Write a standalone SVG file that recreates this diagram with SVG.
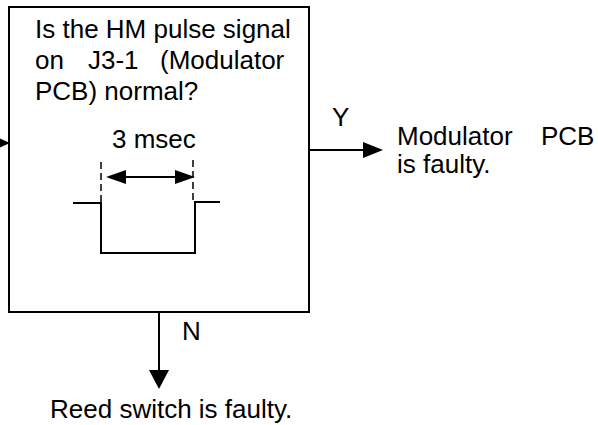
<svg xmlns="http://www.w3.org/2000/svg" width="598" height="425" viewBox="0 0 598 425">
<style>
text{font-family:"Liberation Sans",Arial,sans-serif;font-size:26px;fill:#000}
.ln{stroke:#000;stroke-width:2;fill:none}
.dash{stroke:#000;stroke-width:1.5;stroke-dasharray:7,4;fill:none}
.ah{fill:#000;stroke:none}
</style>
<rect width="598" height="425" fill="#fff"/>
<g id="decision">
<rect x="9" y="7" width="300" height="305" class="ln"/>
<text x="35" y="38">Is the HM pulse signal</text>
<text y="69"><tspan x="35">on</tspan><tspan x="88">J3-1</tspan><tspan x="160">(Modulator</tspan></text>
<text x="35" y="100">PCB) normal?</text>
<text x="112" y="148">3 msec</text>
<path class="dash" d="M101,162V202M193,160V200"/>
<path class="ln" d="M118,177H182"/>
<polygon class="ah" points="106,177 126,170 126,184"/>
<polygon class="ah" points="195,177 175,170 175,184"/>
<path class="ln" d="M73,203H101V253H195V202H220"/>
</g>
<g id="result-y">
<text x="397" y="145">Modulator</text>
<text x="541" y="145">PCB</text>
<text x="397" y="173">is faulty.</text>
</g>
<g id="result-n">
<text x="50" y="418">Reed switch is faulty.</text>
</g>
<g id="connectors">
<polygon class="ah" points="10,143 -8,135 -8,151"/>
<path class="ln" d="M309,150H364"/>
<polygon class="ah" points="383,150 363,142 363,158"/>
<text x="332" y="126">Y</text>
<path class="ln" d="M159,312V372"/>
<polygon class="ah" points="159,389 149,370 169,370"/>
<text x="182" y="340">N</text>
</g>
</svg>
